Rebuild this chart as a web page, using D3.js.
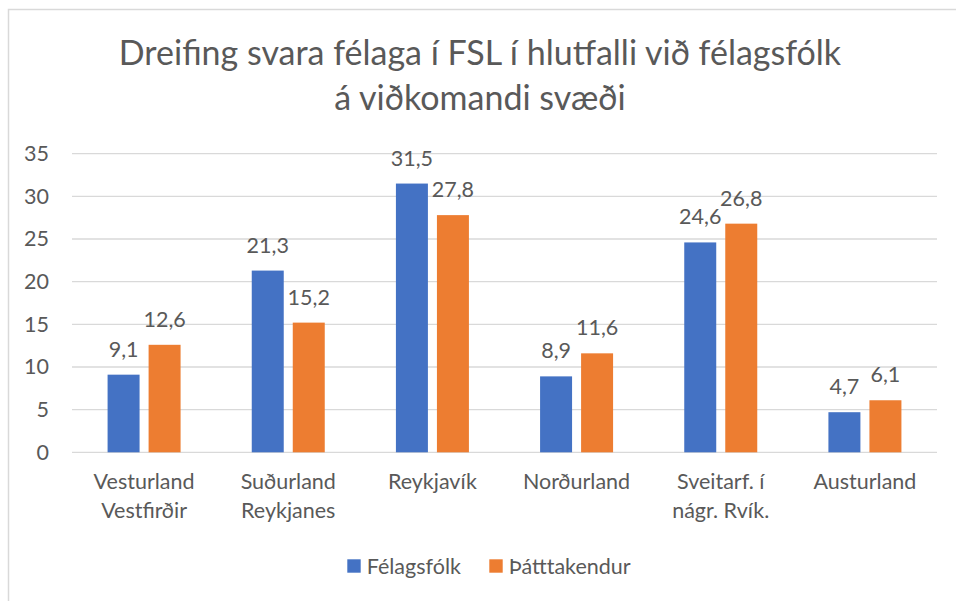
<!DOCTYPE html>
<html>
<head>
<meta charset="utf-8">
<script src="https://cdn.jsdelivr.net/npm/d3@7"></script>
<style>
  body { margin: 0; background: #fff; }
  text { font-family: Lato, "Open Sans", sans-serif; fill: #595959; }
</style>
</head>
<body>
<div id="chart"></div>
<script>
const categories = [
  ["Vesturland", "Vestfirðir"],
  ["Suðurland", "Reykjanes"],
  ["Reykjavík"],
  ["Norðurland"],
  ["Sveitarf. í", "nágr. Rvík."],
  ["Austurland"],
];
const felagsfolk = [9.1, 21.3, 31.5, 8.9, 24.6, 4.7];
const thatttakendur = [12.6, 15.2, 27.8, 11.6, 26.8, 6.1];
const seriesNames = ["Félagsfólk", "Þátttakendur"];
const colors = ["#4472C4", "#ED7D31"];
const yTicks = [0, 5, 10, 15, 20, 25, 30, 35];
const titleLines = ["Dreifing svara félaga í FSL í hlutfalli við félagsfólk", "á viðkomandi svæði"];

const W = 956, H = 601;
const margin = { top: 153.7, right: 19, bottom: 148.7, left: 72 };
const width = W - margin.left - margin.right;
const height = H - margin.top - margin.bottom;
const fs = "21.5px";

const svg = d3.select("#chart").append("svg")
  .attr("width", W)
  .attr("height", H);

// chart border
svg.append("rect")
  .attr("x", 8.5).attr("y", 9.5)
  .attr("width", W + 10).attr("height", H + 10)
  .attr("fill", "none")
  .attr("stroke", "#D9D9D9")
  .attr("stroke-width", 1.5);

svg.selectAll(".title")
  .data(titleLines)
  .enter().append("text")
  .attr("class", "title")
  .attr("x", 480)
  .attr("y", (d, i) => 65 + i * 45)
  .attr("text-anchor", "middle")
  .style("font-size", "34px")
  .text(d => d);

const g = svg.append("g").attr("transform", `translate(${margin.left},${margin.top})`);

const x0 = d3.scaleBand()
  .domain(d3.range(categories.length))
  .range([0, width]);

const x1 = d3.scaleBand()
  .domain([0, 1])
  .range([x0.bandwidth() / 2 - 36.5, x0.bandwidth() / 2 + 36.5])
  .paddingInner(0.22);

const y = d3.scaleLinear().domain([0, 35]).range([height, 0]);

// gridlines
g.selectAll(".grid")
  .data(yTicks)
  .enter().append("line")
  .attr("x1", 0).attr("x2", width)
  .attr("y1", d => y(d)).attr("y2", d => y(d))
  .attr("stroke", "#D9D9D9")
  .attr("stroke-width", 1.3);

const yAxis = g.append("g")
  .call(d3.axisLeft(y).tickValues(yTicks).tickSize(0).tickPadding(23));
yAxis.select(".domain").remove();
yAxis.selectAll("text")
  .style("font-size", fs)
  .style("font-family", "Lato, sans-serif")
  .attr("fill", "#595959");

const seriesData = [felagsfolk, thatttakendur];

seriesData.forEach((vals, s) => {
  g.selectAll(".bar-" + s)
    .data(vals)
    .enter().append("rect")
    .attr("x", (d, i) => x0(i) + x1(s))
    .attr("y", d => y(d))
    .attr("width", x1.bandwidth())
    .attr("height", d => height - y(d))
    .attr("fill", colors[s]);

  g.selectAll(".lbl-" + s)
    .data(vals)
    .enter().append("text")
    .attr("x", (d, i) => x0(i) + x1(s) + x1.bandwidth() / 2)
    .attr("y", d => y(d) - 18)
    .attr("text-anchor", "middle")
    .style("font-size", fs)
    .text(d => d.toString().replace(".", ","));
});

// category labels
categories.forEach((lines, i) => {
  g.append("text")
    .attr("x", x0(i) + x0.bandwidth() / 2)
    .attr("y", height + 37)
    .attr("text-anchor", "middle")
    .style("font-size", fs)
    .selectAll("tspan")
    .data(lines)
    .enter().append("tspan")
    .attr("x", x0(i) + x0.bandwidth() / 2)
    .attr("dy", (d, j) => j === 0 ? 0 : 29)
    .text(d => d);
});

// legend
const legend = svg.append("g").attr("transform", "translate(347.3, 566)");
const legendX = [0, 142];
seriesNames.forEach((name, s) => {
  legend.append("rect")
    .attr("x", legendX[s]).attr("y", -6.7)
    .attr("width", 13.4).attr("height", 13.4)
    .attr("fill", colors[s]);
  legend.append("text")
    .attr("x", legendX[s] + 19.4)
    .attr("y", 0)
    .attr("dy", "0.35em")
    .style("font-size", fs)
    .text(name);
});
</script>
</body>
</html>
